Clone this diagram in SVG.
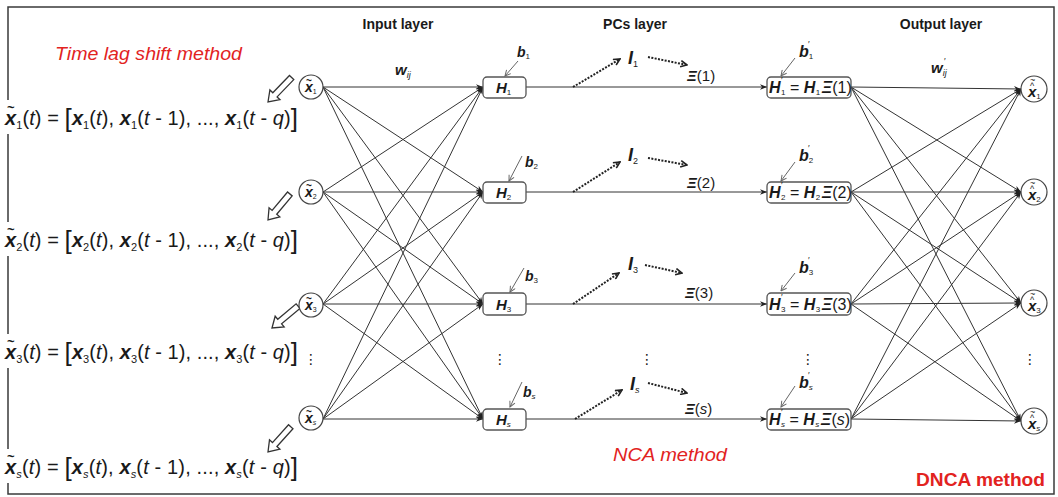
<svg xmlns="http://www.w3.org/2000/svg" width="1058" height="497" viewBox="0 0 1058 497">
  <style>
    text { font-family: "Liberation Sans", Arial, sans-serif; fill: #1a1a1a; }
    .bi { font-weight: bold; font-style: italic; }
    .it { font-style: italic; }
    .title { font-size: 14px; font-weight: bold; text-anchor: middle; }
    .eq { font-size: 20px; }
    .brk { font-size: 26px; font-weight: 300; }
    .sb { font-size: 11px; }
    .red { fill: #e2231f; font-size: 18px; }
    .vd { font-family: "DejaVu Sans", sans-serif; font-size: 14px; text-anchor: middle; }
    .node { fill: #fff; stroke: #444; stroke-width: 1.2; }
    .box { fill: #fff; stroke: #555; stroke-width: 1.3; }
    .wire { stroke: #333; stroke-width: 1; fill: none; marker-end: url(#ah); }
    .dot { stroke: #222; stroke-width: 2; stroke-dasharray: 2 1.4; fill: none; marker-end: url(#chev); }
    .bias { stroke: #666; stroke-width: 1; fill: none; marker-end: url(#small); }
    .blk { fill: #fff; stroke: #333; stroke-width: 1.3; stroke-linejoin: miter; }
    .mark { font-size: 9px; }
  </style>
  <defs>
    <marker id="ah" viewBox="0 0 10 10" refX="10" refY="5" markerWidth="8" markerHeight="7" markerUnits="userSpaceOnUse" orient="auto">
      <path d="M0,1 L10,5 L0,9 L3,5 z" fill="#222"/>
    </marker>
    <marker id="chev" viewBox="0 0 10 10" refX="9" refY="5" markerWidth="8" markerHeight="8" markerUnits="userSpaceOnUse" orient="auto">
      <path d="M1,1 L9,5 L1,9" fill="none" stroke="#222" stroke-width="2"/>
    </marker>
    <marker id="small" viewBox="0 0 10 10" refX="9" refY="5" markerWidth="7" markerHeight="7" markerUnits="userSpaceOnUse" orient="auto">
      <path d="M1,1 L9,5 L1,9" fill="none" stroke="#666" stroke-width="1.4"/>
    </marker>
    <polygon id="hollow" points="0,0 10,-7 10,-3 34,-3 34,3 10,3 10,7"/>
  </defs>

  <!-- frame -->
  <rect x="8" y="7" width="1046" height="487" fill="#fff" stroke="#3a3a3a" stroke-width="1.5"/>

  <!-- headings -->
  <text class="title" x="398" y="29">Input layer</text>
  <text class="title" x="635" y="29">PCs layer</text>
  <text class="title" x="941" y="29">Output layer</text>
  <text class="red it" x="55" y="60" textLength="187" lengthAdjust="spacingAndGlyphs">Time lag shift method</text>
  <text class="red it" x="613" y="461" textLength="114" lengthAdjust="spacingAndGlyphs">NCA method</text>
  <text class="red" x="916" y="486" font-weight="bold" textLength="129" lengthAdjust="spacingAndGlyphs">DNCA method</text>

  <!-- weight labels -->
  <text x="395" y="75" font-size="15"><tspan class="bi">w</tspan><tspan class="it" font-size="9" dy="3">ij</tspan></text>
  <text x="931" y="73" font-size="15"><tspan class="bi">w</tspan><tspan class="it" font-size="9" dy="3">ij</tspan></text>
  <text class="mark" x="944" y="64">′</text>

  <!-- lagged input vectors -->
  <g id="lag-vectors">
    <g id="eq1">
      <rect x="2" y="100" width="300" height="34" fill="#fff"/>
      <text class="eq" x="5" y="125" textLength="293" lengthAdjust="spacing"><tspan class="bi">x</tspan><tspan class="sb" dy="4">1</tspan><tspan dy="-4">(</tspan><tspan class="it">t</tspan>) = <tspan class="brk" dy="2">[</tspan><tspan class="bi" dy="-2">x</tspan><tspan class="sb" dy="4">1</tspan><tspan dy="-4">(</tspan><tspan class="it">t</tspan>), <tspan class="bi">x</tspan><tspan class="sb" dy="4">1</tspan><tspan dy="-4">(</tspan><tspan class="it">t</tspan> - 1), ..., <tspan class="bi">x</tspan><tspan class="sb" dy="4">1</tspan><tspan dy="-4">(</tspan><tspan class="it">t</tspan> - <tspan class="it">q</tspan>)<tspan class="brk" dy="2">]</tspan></text>
      <text x="7" y="112" font-size="13" font-weight="bold">~</text>
    </g>
    <g id="eq2">
      <rect x="2" y="222" width="300" height="34" fill="#fff"/>
      <text class="eq" x="5" y="247" textLength="293" lengthAdjust="spacing"><tspan class="bi">x</tspan><tspan class="sb" dy="4">2</tspan><tspan dy="-4">(</tspan><tspan class="it">t</tspan>) = <tspan class="brk" dy="2">[</tspan><tspan class="bi" dy="-2">x</tspan><tspan class="sb" dy="4">2</tspan><tspan dy="-4">(</tspan><tspan class="it">t</tspan>), <tspan class="bi">x</tspan><tspan class="sb" dy="4">2</tspan><tspan dy="-4">(</tspan><tspan class="it">t</tspan> - 1), ..., <tspan class="bi">x</tspan><tspan class="sb" dy="4">2</tspan><tspan dy="-4">(</tspan><tspan class="it">t</tspan> - <tspan class="it">q</tspan>)<tspan class="brk" dy="2">]</tspan></text>
      <text x="7" y="234" font-size="13" font-weight="bold">~</text>
    </g>
    <g id="eq3">
      <rect x="2" y="334" width="300" height="34" fill="#fff"/>
      <text class="eq" x="5" y="359" textLength="293" lengthAdjust="spacing"><tspan class="bi">x</tspan><tspan class="sb" dy="4">3</tspan><tspan dy="-4">(</tspan><tspan class="it">t</tspan>) = <tspan class="brk" dy="2">[</tspan><tspan class="bi" dy="-2">x</tspan><tspan class="sb" dy="4">3</tspan><tspan dy="-4">(</tspan><tspan class="it">t</tspan>), <tspan class="bi">x</tspan><tspan class="sb" dy="4">3</tspan><tspan dy="-4">(</tspan><tspan class="it">t</tspan> - 1), ..., <tspan class="bi">x</tspan><tspan class="sb" dy="4">3</tspan><tspan dy="-4">(</tspan><tspan class="it">t</tspan> - <tspan class="it">q</tspan>)<tspan class="brk" dy="2">]</tspan></text>
      <text x="7" y="346" font-size="13" font-weight="bold">~</text>
    </g>
    <g id="eqs">
      <rect x="2" y="449" width="300" height="34" fill="#fff"/>
      <text class="eq" x="5" y="474" textLength="293" lengthAdjust="spacing"><tspan class="bi">x</tspan><tspan class="sb it" dy="4">s</tspan><tspan dy="-4">(</tspan><tspan class="it">t</tspan>) = <tspan class="brk" dy="2">[</tspan><tspan class="bi" dy="-2">x</tspan><tspan class="sb it" dy="4">s</tspan><tspan dy="-4">(</tspan><tspan class="it">t</tspan>), <tspan class="bi">x</tspan><tspan class="sb it" dy="4">s</tspan><tspan dy="-4">(</tspan><tspan class="it">t</tspan> - 1), ..., <tspan class="bi">x</tspan><tspan class="sb it" dy="4">s</tspan><tspan dy="-4">(</tspan><tspan class="it">t</tspan> - <tspan class="it">q</tspan>)<tspan class="brk" dy="2">]</tspan></text>
      <text x="7" y="461" font-size="13" font-weight="bold">~</text>
    </g>
    <text class="vd" x="311" y="364">⋮</text>
    <!-- hollow block arrows from each input node down to its vector -->
    <use href="#hollow" class="blk" transform="translate(268,102) rotate(-46)"/>
    <use href="#hollow" class="blk" transform="translate(268,220) rotate(-50)"/>
    <use href="#hollow" class="blk" transform="translate(272,328) rotate(-40)"/>
    <use href="#hollow" class="blk" transform="translate(268,452) rotate(-48)"/>
  </g>

  <!-- connectors -->
  <g id="connectors">
    <!-- input layer to hidden units -->
    <path class="wire" d="M323,87 L483,87"/>
    <path class="wire" d="M323,87 L483,192"/>
    <path class="wire" d="M323,87 L483,304"/>
    <path class="wire" d="M323,87 L483,419"/>
    <path class="wire" d="M323,192 L483,87"/>
    <path class="wire" d="M323,192 L483,192"/>
    <path class="wire" d="M323,192 L483,304"/>
    <path class="wire" d="M323,192 L483,419"/>
    <path class="wire" d="M323,304 L483,87"/>
    <path class="wire" d="M323,304 L483,192"/>
    <path class="wire" d="M323,304 L483,304"/>
    <path class="wire" d="M323,304 L483,419"/>
    <path class="wire" d="M323,419 L483,87"/>
    <path class="wire" d="M323,419 L483,192"/>
    <path class="wire" d="M323,419 L483,304"/>
    <path class="wire" d="M323,419 L483,419"/>
    <!-- hidden units to scaled units -->
    <path class="wire" d="M526,87 L767,87"/>
    <path class="wire" d="M526,192 L767,192"/>
    <path class="wire" d="M526,304 L767,304"/>
    <path class="wire" d="M526,419 L767,419"/>
    <!-- scaled units to output layer -->
    <path class="wire" d="M851,87 L1021,89"/>
    <path class="wire" d="M851,87 L1021,192"/>
    <path class="wire" d="M851,87 L1021,303"/>
    <path class="wire" d="M851,87 L1021,421"/>
    <path class="wire" d="M851,192 L1021,89"/>
    <path class="wire" d="M851,192 L1021,192"/>
    <path class="wire" d="M851,192 L1021,303"/>
    <path class="wire" d="M851,192 L1021,421"/>
    <path class="wire" d="M851,304 L1021,89"/>
    <path class="wire" d="M851,304 L1021,192"/>
    <path class="wire" d="M851,304 L1021,303"/>
    <path class="wire" d="M851,304 L1021,421"/>
    <path class="wire" d="M851,419 L1021,89"/>
    <path class="wire" d="M851,419 L1021,192"/>
    <path class="wire" d="M851,419 L1021,303"/>
    <path class="wire" d="M851,419 L1021,421"/>
    <!-- NCA branches -->
    <path class="dot" d="M573,87 L620,59"/>
    <path class="dot" d="M648,57 L687,65"/>
    <path class="dot" d="M573,192 L620,162"/>
    <path class="dot" d="M648,158 L687,165"/>
    <path class="dot" d="M573,304 L619,273"/>
    <path class="dot" d="M645,265 L682,273"/>
    <path class="dot" d="M575,419 L622,390"/>
    <path class="dot" d="M648,383 L687,393"/>
    <!-- biases -->
    <path class="bias" d="M518,61 L505,76"/>
    <path class="bias" d="M522,156 L509,181"/>
    <path class="bias" d="M524,268 L510,292"/>
    <path class="bias" d="M522,382 L510,407"/>
    <path class="bias" d="M795,58 L781,76"/>
    <path class="bias" d="M795,162 L781,181"/>
    <path class="bias" d="M795,273 L781,291"/>
    <path class="bias" d="M795,386 L781,407"/>
  </g>

  <!-- input nodes -->
  <g id="in1"><circle class="node" cx="311" cy="87" r="12"/><text x="305" y="92" font-size="14"><tspan class="bi">x</tspan><tspan font-size="7" dy="2">1</tspan></text><text x="306" y="84" font-size="10" font-weight="bold">~</text></g>
  <g id="in2"><circle class="node" cx="311" cy="192" r="12"/><text x="305" y="197" font-size="14"><tspan class="bi">x</tspan><tspan font-size="7" dy="2">2</tspan></text><text x="306" y="189" font-size="10" font-weight="bold">~</text></g>
  <g id="in3"><circle class="node" cx="311" cy="305" r="12"/><text x="305" y="310" font-size="14"><tspan class="bi">x</tspan><tspan font-size="7" dy="2">3</tspan></text><text x="306" y="302" font-size="10" font-weight="bold">~</text></g>
  <g id="ins"><circle class="node" cx="311" cy="418" r="12"/><text x="305" y="423" font-size="14"><tspan class="bi">x</tspan><tspan class="it" font-size="7" dy="2">s</tspan></text><text x="306" y="415" font-size="10" font-weight="bold">~</text></g>

  <!-- hidden units -->
  <g id="h1"><rect class="box" x="483" y="77" width="43" height="21" rx="4"/><text x="496" y="93" font-size="15"><tspan class="bi">H</tspan><tspan font-size="8" dy="2">1</tspan></text><text x="517" y="57" font-size="14"><tspan class="bi">b</tspan><tspan font-size="8" dy="2">1</tspan></text></g>
  <g id="h2"><rect class="box" x="483" y="182" width="43" height="21" rx="4"/><text x="496" y="198" font-size="15"><tspan class="bi">H</tspan><tspan font-size="8" dy="2">2</tspan></text><text x="525" y="167" font-size="14"><tspan class="bi">b</tspan><tspan font-size="8" dy="2">2</tspan></text></g>
  <g id="h3"><rect class="box" x="483" y="293" width="43" height="22" rx="4"/><text x="496" y="310" font-size="15"><tspan class="bi">H</tspan><tspan font-size="8" dy="2">3</tspan></text><text x="525" y="281" font-size="14"><tspan class="bi">b</tspan><tspan font-size="8" dy="2">3</tspan></text></g>
  <g id="hs"><rect class="box" x="483" y="409" width="43" height="21" rx="4"/><text x="496" y="425" font-size="15"><tspan class="bi">H</tspan><tspan class="it" font-size="8" dy="2">s</tspan></text><text x="523" y="397" font-size="14"><tspan class="bi">b</tspan><tspan class="it" font-size="8" dy="2">s</tspan></text></g>

  <!-- principal-component branches -->
  <g id="pc1"><text x="628" y="64" font-size="18"><tspan class="bi">I</tspan><tspan font-size="9" dy="3">1</tspan></text><text x="687" y="81" font-size="15"><tspan class="bi">Ξ</tspan>(1)</text></g>
  <g id="pc2"><text x="628" y="161" font-size="18"><tspan class="bi">I</tspan><tspan font-size="9" dy="3">2</tspan></text><text x="687" y="188" font-size="15"><tspan class="bi">Ξ</tspan>(2)</text></g>
  <g id="pc3"><text x="628" y="270" font-size="18"><tspan class="bi">I</tspan><tspan font-size="9" dy="3">3</tspan></text><text x="685" y="298" font-size="15"><tspan class="bi">Ξ</tspan>(3)</text></g>
  <g id="pcs"><text x="630" y="390" font-size="18"><tspan class="bi">I</tspan><tspan class="it" font-size="9" dy="3">s</tspan></text><text x="685" y="414" font-size="15"><tspan class="bi">Ξ</tspan>(<tspan class="it">s</tspan>)</text></g>

  <!-- scaled units -->
  <g id="hp1"><rect class="box" x="767" y="77" width="84" height="21" rx="4"/><text x="769" y="93" font-size="16"><tspan class="bi">H</tspan><tspan font-size="8" dx="0.5" dy="2">1</tspan><tspan dy="-2"> = </tspan><tspan class="bi">H</tspan><tspan font-size="8" dx="0.5" dy="2">1</tspan><tspan class="bi" dx="1.5" dy="-2">Ξ</tspan>(1)</text><text class="mark" x="781" y="83">′</text><text x="799" y="57" font-size="16"><tspan class="bi">b</tspan><tspan font-size="8" dy="2">1</tspan></text><text class="mark" x="808" y="47">′</text></g>
  <g id="hp2"><rect class="box" x="767" y="182" width="84" height="21" rx="4"/><text x="769" y="198" font-size="16"><tspan class="bi">H</tspan><tspan font-size="8" dx="0.5" dy="2">2</tspan><tspan dy="-2"> = </tspan><tspan class="bi">H</tspan><tspan font-size="8" dx="0.5" dy="2">2</tspan><tspan class="bi" dx="1.5" dy="-2">Ξ</tspan>(2)</text><text class="mark" x="781" y="188">′</text><text x="799" y="161" font-size="16"><tspan class="bi">b</tspan><tspan font-size="8" dy="2">2</tspan></text><text class="mark" x="808" y="151">′</text></g>
  <g id="hp3"><rect class="box" x="767" y="293" width="84" height="22" rx="4"/><text x="769" y="310" font-size="16"><tspan class="bi">H</tspan><tspan font-size="8" dx="0.5" dy="2">3</tspan><tspan dy="-2"> = </tspan><tspan class="bi">H</tspan><tspan font-size="8" dx="0.5" dy="2">3</tspan><tspan class="bi" dx="1.5" dy="-2">Ξ</tspan>(3)</text><text class="mark" x="781" y="300">′</text><text x="799" y="273" font-size="16"><tspan class="bi">b</tspan><tspan font-size="8" dy="2">3</tspan></text><text class="mark" x="808" y="263">′</text></g>
  <g id="hps"><rect class="box" x="767" y="409" width="84" height="21" rx="4"/><text x="769" y="425" font-size="16"><tspan class="bi">H</tspan><tspan class="it" font-size="8" dx="0.5" dy="2">s</tspan><tspan dy="-2"> = </tspan><tspan class="bi">H</tspan><tspan class="it" font-size="8" dx="0.5" dy="2">s</tspan><tspan class="bi" dx="1.5" dy="-2">Ξ</tspan>(<tspan class="it">s</tspan>)</text><text class="mark" x="781" y="415">′</text><text x="799" y="388" font-size="16"><tspan class="bi">b</tspan><tspan class="it" font-size="8" dy="2">s</tspan></text><text class="mark" x="808" y="378">′</text></g>

  <!-- output nodes -->
  <g id="out1"><circle class="node" cx="1034" cy="89" r="13"/><text x="1028" y="97" font-size="15"><tspan class="bi">x</tspan><tspan font-size="8" dy="2">1</tspan></text><text class="mark" x="1030" y="89">^</text><text class="mark" x="1030" y="83">~</text></g>
  <g id="out2"><circle class="node" cx="1034" cy="192" r="13"/><text x="1028" y="200" font-size="15"><tspan class="bi">x</tspan><tspan font-size="8" dy="2">2</tspan></text><text class="mark" x="1030" y="192">^</text><text class="mark" x="1030" y="186">~</text></g>
  <g id="out3"><circle class="node" cx="1034" cy="303" r="13"/><text x="1028" y="311" font-size="15"><tspan class="bi">x</tspan><tspan font-size="8" dy="2">3</tspan></text><text class="mark" x="1030" y="303">^</text><text class="mark" x="1030" y="297">~</text></g>
  <g id="outs"><circle class="node" cx="1034" cy="421" r="13"/><text x="1028" y="429" font-size="15"><tspan class="bi">x</tspan><tspan class="it" font-size="8" dy="2">s</tspan></text><text class="mark" x="1030" y="421">^</text><text class="mark" x="1030" y="415">~</text></g>

  <!-- vertical ellipses between rows -->
  <text class="vd" x="500" y="364">⋮</text>
  <text class="vd" x="647" y="364">⋮</text>
  <text class="vd" x="808" y="364">⋮</text>
  <text class="vd" x="1030" y="364">⋮</text>
</svg>
